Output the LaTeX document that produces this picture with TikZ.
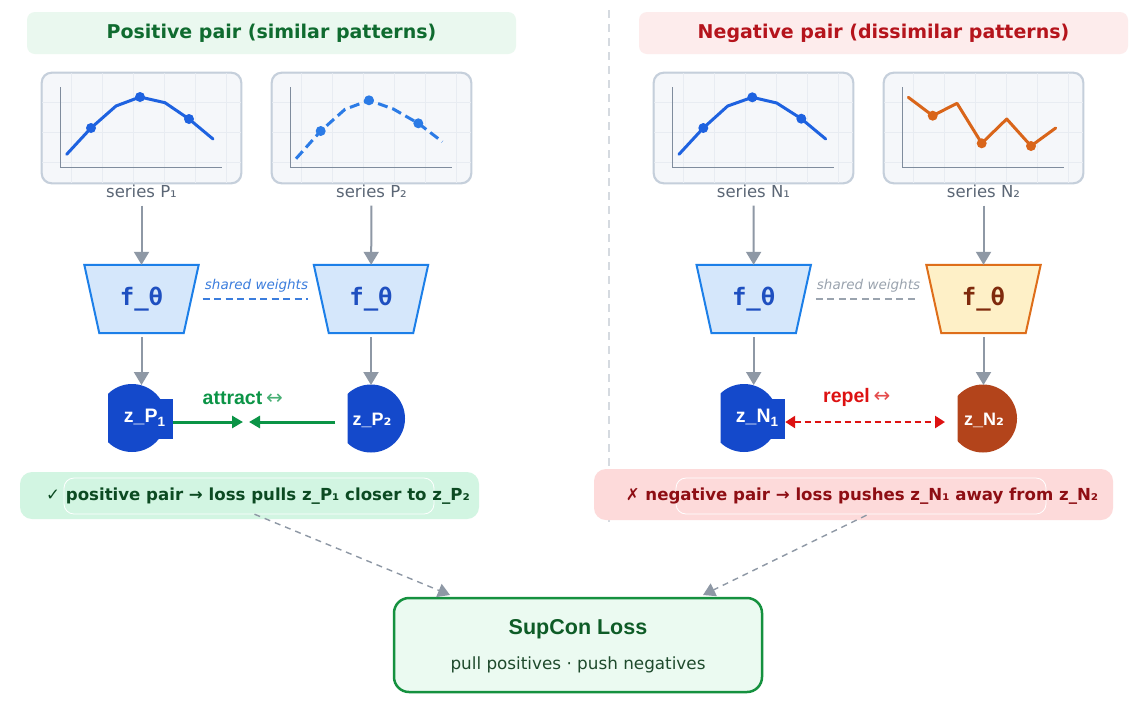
\documentclass[tikz,border=0pt]{standalone}
\usepackage{fontspec}
\setmainfont{DejaVu Sans}
\newfontfamily\libsans{Liberation Sans}
\newfontfamily\djmono{DejaVu Sans Mono}
\newfontfamily\djsans{DejaVu Sans}
\usetikzlibrary{arrows.meta,calc}
\definecolor{hgfill}{HTML}{EAF8EF}
\definecolor{hgtext}{HTML}{0F6B2F}
\definecolor{hrfill}{HTML}{FDECEC}
\definecolor{hrtext}{HTML}{B5141C}
\definecolor{chfill}{HTML}{F5F7FA}
\definecolor{chborder}{HTML}{C5CFDB}
\definecolor{chgrid}{HTML}{E8ECF2}
\definecolor{chaxis}{HTML}{7F8C9D}
\definecolor{lblue}{HTML}{1E62E0}
\definecolor{lblue2}{HTML}{2B7BE6}
\definecolor{lorange}{HTML}{D9651A}
\definecolor{lbl}{HTML}{5B6675}
\definecolor{garrow}{HTML}{8E98A5}
\definecolor{encfill}{HTML}{D5E7FB}
\definecolor{encborder}{HTML}{1C7FE8}
\definecolor{enctext}{HTML}{1E4FC0}
\definecolor{encofill}{HTML}{FEF0C7}
\definecolor{encoborder}{HTML}{DE6E1A}
\definecolor{encotext}{HTML}{7F2A0C}
\definecolor{swblue}{HTML}{3B7DDD}
\definecolor{swgray}{HTML}{9AA3AE}
\definecolor{zblue}{HTML}{1449CB}
\definecolor{zbrown}{HTML}{B3441B}
\definecolor{agreen}{HTML}{0B9446}
\definecolor{rred}{HTML}{DD1111}
\definecolor{ngfill}{HTML}{D2F5E2}
\definecolor{ngtext}{HTML}{0C4A22}
\definecolor{nrfill}{HTML}{FDDADA}
\definecolor{nrtext}{HTML}{8E0E14}
\definecolor{sfill}{HTML}{EBFAF1}
\definecolor{sborder}{HTML}{15913F}
\definecolor{stitle}{HTML}{0E5C27}
\definecolor{ssub}{HTML}{1E4A2C}
\definecolor{divc}{HTML}{D5DAE0}
\tikzset{
  header/.style={rounded corners=8pt, minimum width=489pt, minimum height=42pt, font=\fontsize{19}{21}\selectfont\bfseries},
  chartbox/.style={draw=chborder, fill=chfill, line width=1.3pt, rounded corners=10pt, minimum width=199pt, minimum height=110pt},
  serieslbl/.style={text=lbl, font=\fontsize{16.5}{18}\selectfont, inner sep=1pt},
  encbox/.style={minimum width=114pt, minimum height=68pt, inner sep=0pt},
  enctxt/.style={font=\fontsize{24}{26}\djmono\bfseries},
  garr/.style={draw=garrow, line width=2pt, -{Triangle[length=13pt,width=15pt]}},
  zcirc/.style={circle, minimum size=68pt, inner sep=0pt},
  zrect/.style={minimum height=40pt, inner sep=0pt},
  ztxt/.style={text=white, font=\libsans\bfseries\fontsize{19.5}{21}\selectfont, inner sep=0pt},
  swtxt/.style={font=\fontsize{13.5}{15}\selectfont\itshape},
  note/.style={rounded corners=12pt},
  notetxt/.style={font=\fontsize{16.6}{18}\selectfont\bfseries},
  innerline/.style={draw=white, line width=0.8pt, rounded corners=10pt},
  dgarr/.style={draw=garrow, line width=1.4pt, dash pattern=on 6pt off 5pt, -{Triangle[length=12pt,width=14pt]}},
  seriesline/.style={line width=3pt, line join=round, line cap=round},
}
\begin{document}
\begin{tikzpicture}[x=1pt,y=-1pt]
\useasboundingbox (0,0) rectangle (1134,705);
\fill[white] (0,0) rectangle (1134,705);
% headers
\node[header, fill=hgfill, text=hgtext] (hpos) at (271.5,33) {Positive pair (similar patterns)};
\node[header, fill=hrfill, text=hrtext] (hneg) at (883.5,33) {Negative pair (dissimilar patterns)};
% divider
\draw[divc, line width=1.5pt, dash pattern=on 8pt off 6pt] (609,10) -- (609,526);
% chart boxes
\node[chartbox] (c1) at (141.5,128) {};
\node[chartbox] (c2) at (371.5,128) {};
\node[chartbox] (c3) at (753.5,128) {};
\node[chartbox] (c4) at (983.5,128) {};
\foreach \c in {c1,c2,c3,c4}{
  \begin{scope}
    \clip[rounded corners=10pt] (\c.north west) rectangle (\c.south east);
    \foreach \i in {1,...,6} \draw[chgrid, line width=1pt] ($(\c.north west)+(31*\i-0.5,0)$) -- ($(\c.south west)+(31*\i-0.5,0)$);
    \foreach \j in {1,2,3} \draw[chgrid, line width=1pt] ($(\c.north west)+(0,30*\j)$) -- ($(\c.north east)+(0,30*\j)$);
  \end{scope}
  \draw[chborder, line width=1.3pt, rounded corners=10pt] (\c.north west) rectangle (\c.south east);
  \draw[chaxis, line width=1.5pt] ($(\c.north west)+(19,15)$) -- ($(\c.north west)+(19,95)$) -- ($(\c.north west)+(181,95)$);
}
% series
\draw[lblue, seriesline] (66.7,154.3) -- (91,128) -- (116,106) -- (140,97) -- (165,102.7) -- (189,119) -- (213,139);
\foreach \p in {(91,128),(140,97),(189,119)} \fill[lblue] \p circle (5pt);
\draw[lblue2, seriesline, line cap=butt, dash pattern=on 10pt off 5pt] (296,158.7) -- (320.7,131) -- (345,109.3) -- (369,100.3) -- (393.3,109) -- (418.3,123.3) -- (442.3,141.7);
\foreach \p in {(320.7,131),(369,100.3),(418.3,123.3)} \fill[lblue2] \p circle (5pt);
\draw[lblue, seriesline] (679,154.3) -- (703.3,128) -- (727.7,106) -- (752.3,97.3) -- (776.7,103) -- (801.3,118.7) -- (825.7,139);
\foreach \p in {(703.3,128),(752.3,97.3),(801.3,118.7)} \fill[lblue] \p circle (5pt);
\draw[lorange, seriesline] (908.3,97.3) -- (932.7,115.7) -- (957,103.3) -- (981.7,143.3) -- (1006.7,119) -- (1031,146) -- (1055.7,128);
\foreach \p in {(932.7,115.7),(981.7,143.3),(1031,146)} \fill[lorange] \p circle (5pt);
% series labels
\node[serieslbl] (s1) at (141.5,191) {series P₁};
\node[serieslbl] (s2) at (371.5,191) {series P₂};
\node[serieslbl] (s3) at (753.5,191) {series N₁};
\node[serieslbl] (s4) at (983.5,191) {series N₂};
% encoders
\node[encbox] (e1) at (141.5,299) {};
\node[encbox] (e2) at (371,299) {};
\node[encbox] (e3) at (753.7,299) {};
\node[encbox] (e4) at (983.5,299) {};
\foreach \e in {e1,e2,e3}{
  \draw[fill=encfill, draw=encborder, line width=2pt, line join=miter] (\e.north west) -- (\e.north east) -- ($(\e.south east)+(-15,0)$) -- ($(\e.south west)+(15,0)$) -- cycle;
  \node[enctxt, text=enctext] at (\e) {f\_θ};
}
\draw[fill=encofill, draw=encoborder, line width=2pt] (e4.north west) -- (e4.north east) -- ($(e4.south east)+(-15,0)$) -- ($(e4.south west)+(15,0)$) -- cycle;
\node[enctxt, text=encotext] at (e4) {f\_θ};
% shared weights
\node[swtxt, text=swblue] (sw1) at (256.5,286) {shared weights};
\draw[swblue, line width=1.2pt, dash pattern=on 7pt off 4.5pt] ($(e1.east)+(4,0)$) -- ($(e2.west)+(-6,0)$);
\node[swtxt, text=swgray] (sw2) at (868.5,286) {shared weights};
\draw[swgray, line width=1.2pt, dash pattern=on 7pt off 4.5pt] ($(e3.east)+(5,0)$) -- ($(e4.west)+(-7,0)$);
% z nodes
\begin{scope}
  \clip (108,370) rectangle (200,460);
  \node[zcirc, fill=zblue] (z1) at (132,418) {};
\end{scope}
\node[zrect, fill=zblue, minimum width=27pt] (z1r) at (159.5,419) {};
\node[ztxt] (z1t) at (144.5,418) {z\_P\raisebox{-4.5pt}{\fontsize{13.5}{14}\selectfont 1}};
\begin{scope}
  \clip (347.5,370) rectangle (420,460);
  \node[zcirc, fill=zblue] (z2) at (371,418.5) {};
\end{scope}
\node[ztxt, font=\libsans\bfseries\fontsize{18}{20}\selectfont] (z2t) at (372,420) {z\_P{\djsans\bfseries ₂}};
\begin{scope}
  \clip (720.5,370) rectangle (800,460);
  \node[zcirc, fill=zblue] (z3) at (744,418) {};
\end{scope}
\node[zrect, fill=zblue, minimum width=30pt] (z3r) at (770,419) {};
\node[ztxt] (z3t) at (757,418) {z\_N\raisebox{-4.5pt}{\fontsize{13.5}{14}\selectfont 1}};
\begin{scope}
  \clip (957.5,370) rectangle (1030,460);
  \node[zcirc, fill=zbrown] (z4) at (983,418.5) {};
\end{scope}
\node[ztxt, font=\libsans\bfseries\fontsize{18}{20}\selectfont] (z4t) at (984,420) {z\_N{\djsans\bfseries ₂}};
% gray arrows
\draw[garr, shorten <=7pt] (s1) -- (e1);
\draw[garr, shorten <=7pt] (s2) -- (e2);
\draw[garr, shorten <=7pt] (s3) -- (e3);
\draw[garr, shorten <=7pt] (s4) -- (e4);
\coordinate (t1) at (141.5,385);
\coordinate (t2) at (371,385);
\coordinate (t3) at (753.7,385);
\coordinate (t4) at (983.5,385);
\draw[garr, shorten <=4pt] (e1.south) -- (t1);
\draw[garr, shorten <=4pt] (e2.south) -- (t2);
\draw[garr, shorten <=4pt] (e3.south) -- (t3);
\draw[garr, shorten <=4pt] (e4.south) -- (t4);
% attract
\node[text=agreen, font=\libsans\bfseries\fontsize{19.5}{21}\selectfont, anchor=base west, inner sep=0pt] (att) at (202.5,404) {attract};
\node[text=agreen!75, font=\djsans\fontsize{20}{22}\selectfont, anchor=base west, inner sep=0pt] (attar) at (att.base east) {\,↔};
\coordinate (a1) at (243,422);
\coordinate (a2) at (249,422);
\coordinate (a2s) at (335,422);
\draw[agreen, line width=3pt, -{Triangle[length=11pt,width=12pt]}] (z1r.east |- a1) -- (a1);
\draw[agreen, line width=3pt, -{Triangle[length=11pt,width=12pt]}] (a2s) -- (a2);
% repel
\node[text=rred, font=\libsans\bfseries\fontsize{19.5}{21}\selectfont, anchor=base west, inner sep=0pt] (rep) at (823,402) {repel};
\node[text=rred!75, font=\djsans\fontsize{20}{22}\selectfont, anchor=base west, inner sep=0pt] (repar) at (rep.base east) {\,↔};
\coordinate (r2) at (945,422);
\draw[rred, line width=2.6pt, dash pattern=on 6pt off 4pt, {Triangle[length=10pt,width=12pt]}-{Triangle[length=10pt,width=12pt]}] (z3r.east |- r2) -- (r2);
% notes
\node[note, fill=ngfill, minimum width=459pt, minimum height=47pt] (n1) at (249.5,495.5) {};
\draw[innerline] (64,478) rectangle (434,514);
\node[notetxt, text=ngtext] (n1t) at (258,496) {{\mdseries ✓} positive pair → loss pulls z\_P₁ closer to z\_P₂};
\node[note, fill=nrfill, minimum width=519pt, minimum height=51pt] (n2) at (853.5,494.5) {};
\draw[innerline] (676,478) rectangle (1046,514);
\node[notetxt, text=nrtext] (n2t) at (862,496) {{\mdseries ✗} negative pair → loss pushes z\_N₁ away from z\_N₂};
% supcon
\node[draw=sborder, fill=sfill, line width=2.5pt, rounded corners=15pt, minimum width=368pt, minimum height=94pt] (sc) at (578,645) {};
\node[text=stitle, font=\libsans\bfseries\fontsize{21.5}{23}\selectfont] (sct) at (578,629) {SupCon Loss};
\node[text=ssub, font=\fontsize{16.8}{18}\selectfont] (scs) at (578,665) {pull positives · push negatives};
\coordinate (d1) at (450,595);
\coordinate (d2) at (703,595);
\draw[dgarr] ($(n1.south)+(5,-5)$) -- (d1);
\draw[dgarr] ($(n2.south)+(13,-5)$) -- (d2);
\end{tikzpicture}
\end{document}
